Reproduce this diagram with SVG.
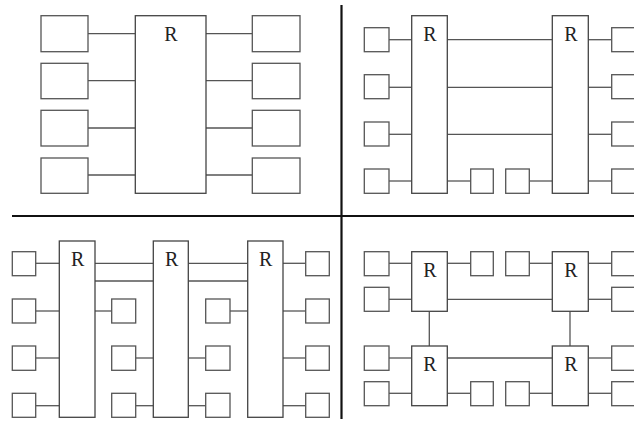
<svg xmlns="http://www.w3.org/2000/svg" width="634" height="421" viewBox="0 0 634 421">
<style>
.b{fill:#fff;stroke:#555;stroke-width:1.3}
.r{fill:#fff;stroke:#444;stroke-width:1.3}
.c line{stroke:#555;stroke-width:1.3}
.d{stroke:#111;stroke-width:2.2}
.t{font-family:"Liberation Serif",serif;font-size:20px;fill:#222;text-anchor:middle}
</style>
<rect width="634" height="421" fill="#fff"/>
<g id="dividers">
<line class="d" x1="341.5" y1="5" x2="341.5" y2="419"/>
<line class="d" x1="12" y1="216" x2="634" y2="216"/>
</g>
<!-- Quadrant 1 -->
<g class="c" id="q1-connectors">
<line x1="88" y1="33.7" x2="135.3" y2="33.7"/>
<line x1="88" y1="80.7" x2="135.3" y2="80.7"/>
<line x1="88" y1="128" x2="135.3" y2="128"/>
<line x1="88" y1="175" x2="135.3" y2="175"/>
<line x1="206" y1="33.7" x2="252.3" y2="33.7"/>
<line x1="206" y1="80.7" x2="252.3" y2="80.7"/>
<line x1="206" y1="128" x2="252.3" y2="128"/>
<line x1="206" y1="175" x2="252.3" y2="175"/>
</g>
<g id="q1-R"><rect class="r" x="135.3" y="15.7" width="70.7" height="177.6"/><text class="t" x="171" y="40.5">R</text></g>
<g id="q1-L1"><rect class="b" x="41" y="15.7" width="47" height="36"/></g>
<g id="q1-L2"><rect class="b" x="41" y="63.3" width="47" height="35.4"/></g>
<g id="q1-L3"><rect class="b" x="41" y="110.3" width="47" height="35.7"/></g>
<g id="q1-L4"><rect class="b" x="41" y="158" width="47" height="35.3"/></g>
<g id="q1-R1"><rect class="b" x="252.3" y="15.7" width="47.7" height="36"/></g>
<g id="q1-R2"><rect class="b" x="252.3" y="63.3" width="47.7" height="35.4"/></g>
<g id="q1-R3"><rect class="b" x="252.3" y="110.3" width="47.7" height="35.7"/></g>
<g id="q1-R4"><rect class="b" x="252.3" y="158" width="47.7" height="35.3"/></g>
<!-- Quadrant 2 -->
<g class="c" id="q2-connectors">
<line x1="389" y1="39.7" x2="411.7" y2="39.7"/>
<line x1="389" y1="87.3" x2="411.7" y2="87.3"/>
<line x1="389" y1="134.3" x2="411.7" y2="134.3"/>
<line x1="389" y1="181" x2="411.7" y2="181"/>
<line x1="447.3" y1="39.7" x2="552.3" y2="39.7"/>
<line x1="447.3" y1="87.3" x2="552.3" y2="87.3"/>
<line x1="447.3" y1="134.3" x2="552.3" y2="134.3"/>
<line x1="447.3" y1="181" x2="470.7" y2="181"/>
<line x1="529.3" y1="181" x2="552.3" y2="181"/>
<line x1="588.3" y1="39.7" x2="611.7" y2="39.7"/>
<line x1="588.3" y1="87.3" x2="611.7" y2="87.3"/>
<line x1="588.3" y1="134.3" x2="611.7" y2="134.3"/>
<line x1="588.3" y1="181" x2="611.7" y2="181"/>
</g>
<g id="q2-RA"><rect class="r" x="411.7" y="15.7" width="35.6" height="177.6"/><text class="t" x="430" y="40.5">R</text></g>
<g id="q2-RB"><rect class="r" x="552.3" y="15.7" width="36" height="177.6"/><text class="t" x="571" y="40.5">R</text></g>
<g id="q2-L1"><rect class="b" x="364.3" y="27.7" width="24.7" height="24"/></g>
<g id="q2-L2"><rect class="b" x="364.3" y="74.7" width="24.7" height="24"/></g>
<g id="q2-L3"><rect class="b" x="364.3" y="122" width="24.7" height="24"/></g>
<g id="q2-L4"><rect class="b" x="364.3" y="169" width="24.7" height="24.3"/></g>
<g id="q2-M1"><rect class="b" x="470.7" y="169" width="22.6" height="24.3"/></g>
<g id="q2-M2"><rect class="b" x="505.7" y="169" width="23.6" height="24.3"/></g>
<g id="q2-R1"><rect class="b" x="611.7" y="27.7" width="24.7" height="24"/></g>
<g id="q2-R2"><rect class="b" x="611.7" y="74.7" width="24.7" height="24"/></g>
<g id="q2-R3"><rect class="b" x="611.7" y="122" width="24.7" height="24"/></g>
<g id="q2-R4"><rect class="b" x="611.7" y="169" width="24.7" height="24.3"/></g>
<!-- Quadrant 3 -->
<g class="c" id="q3-connectors">
<line x1="35.7" y1="263.3" x2="59.3" y2="263.3"/>
<line x1="95" y1="263.3" x2="153.3" y2="263.3"/>
<line x1="95" y1="281" x2="153.3" y2="281"/>
<line x1="188.3" y1="263.3" x2="247.7" y2="263.3"/>
<line x1="188.3" y1="281" x2="247.7" y2="281"/>
<line x1="283" y1="263.3" x2="305.7" y2="263.3"/>
<line x1="35.7" y1="311" x2="59.3" y2="311"/>
<line x1="95" y1="311" x2="111.7" y2="311"/>
<line x1="230" y1="311" x2="247.7" y2="311"/>
<line x1="283" y1="311" x2="305.7" y2="311"/>
<line x1="35.7" y1="358" x2="59.3" y2="358"/>
<line x1="135.7" y1="358" x2="153.3" y2="358"/>
<line x1="188.3" y1="358" x2="205.7" y2="358"/>
<line x1="283" y1="358" x2="305.7" y2="358"/>
<line x1="35.7" y1="405.7" x2="59.3" y2="405.7"/>
<line x1="135.7" y1="405.7" x2="153.3" y2="405.7"/>
<line x1="188.3" y1="405.7" x2="205.7" y2="405.7"/>
<line x1="283" y1="405.7" x2="305.7" y2="405.7"/>
</g>
<g id="q3-RA"><rect class="r" x="59.3" y="241" width="35.7" height="176.3"/><text class="t" x="77.7" y="266">R</text></g>
<g id="q3-RB"><rect class="r" x="153.3" y="241" width="35" height="176.3"/><text class="t" x="171.7" y="266">R</text></g>
<g id="q3-RC"><rect class="r" x="247.7" y="241" width="35.3" height="176.3"/><text class="t" x="265.7" y="266">R</text></g>
<g id="q3-L1"><rect class="b" x="12.3" y="251.7" width="23.4" height="24"/></g>
<g id="q3-L2"><rect class="b" x="12.3" y="299" width="23.4" height="24"/></g>
<g id="q3-L3"><rect class="b" x="12.3" y="346" width="23.4" height="24.3"/></g>
<g id="q3-L4"><rect class="b" x="12.3" y="393.3" width="23.4" height="24"/></g>
<g id="q3-A2"><rect class="b" x="111.7" y="299" width="24" height="24"/></g>
<g id="q3-A3"><rect class="b" x="111.7" y="346" width="24" height="24.3"/></g>
<g id="q3-A4"><rect class="b" x="111.7" y="393.3" width="24" height="24"/></g>
<g id="q3-B2"><rect class="b" x="205.7" y="299" width="24.3" height="24"/></g>
<g id="q3-B3"><rect class="b" x="205.7" y="346" width="24.3" height="24.3"/></g>
<g id="q3-B4"><rect class="b" x="205.7" y="393.3" width="24.3" height="24"/></g>
<g id="q3-R1"><rect class="b" x="305.7" y="251.7" width="23.6" height="24"/></g>
<g id="q3-R2"><rect class="b" x="305.7" y="299" width="23.6" height="24"/></g>
<g id="q3-R3"><rect class="b" x="305.7" y="346" width="23.6" height="24.3"/></g>
<g id="q3-R4"><rect class="b" x="305.7" y="393.3" width="23.6" height="24"/></g>
<!-- Quadrant 4 -->
<g class="c" id="q4-connectors">
<line x1="389" y1="263.3" x2="411.7" y2="263.3"/>
<line x1="447.3" y1="263.3" x2="470.7" y2="263.3"/>
<line x1="529.3" y1="263.3" x2="552.3" y2="263.3"/>
<line x1="588.3" y1="263.3" x2="611.7" y2="263.3"/>
<line x1="389" y1="299.3" x2="411.7" y2="299.3"/>
<line x1="447.3" y1="299.3" x2="552.3" y2="299.3"/>
<line x1="588.3" y1="299.3" x2="611.7" y2="299.3"/>
<line x1="429.3" y1="311.3" x2="429.3" y2="346"/>
<line x1="570" y1="311.3" x2="570" y2="346"/>
<line x1="389" y1="358" x2="411.7" y2="358"/>
<line x1="447.3" y1="358" x2="552.3" y2="358"/>
<line x1="588.3" y1="358" x2="611.7" y2="358"/>
<line x1="389" y1="393.3" x2="411.7" y2="393.3"/>
<line x1="447.3" y1="393.3" x2="470.7" y2="393.3"/>
<line x1="529.3" y1="393.3" x2="552.3" y2="393.3"/>
<line x1="588.3" y1="393.3" x2="611.7" y2="393.3"/>
</g>
<g id="q4-RTL"><rect class="r" x="411.7" y="251.7" width="35.6" height="59.6"/><text class="t" x="430" y="277">R</text></g>
<g id="q4-RTR"><rect class="r" x="552.3" y="251.7" width="36" height="59.6"/><text class="t" x="571" y="277">R</text></g>
<g id="q4-RBL"><rect class="r" x="411.7" y="346" width="35.6" height="59.7"/><text class="t" x="430" y="371">R</text></g>
<g id="q4-RBR"><rect class="r" x="552.3" y="346" width="36" height="59.7"/><text class="t" x="571" y="371">R</text></g>
<g id="q4-L1"><rect class="b" x="364.3" y="251.7" width="24.7" height="24"/></g>
<g id="q4-L2"><rect class="b" x="364.3" y="287.3" width="24.7" height="24"/></g>
<g id="q4-L3"><rect class="b" x="364.3" y="346" width="24.7" height="24.3"/></g>
<g id="q4-L4"><rect class="b" x="364.3" y="381.7" width="24.7" height="24"/></g>
<g id="q4-M1"><rect class="b" x="470.7" y="251.7" width="22.6" height="24"/></g>
<g id="q4-M2"><rect class="b" x="505.7" y="251.7" width="23.6" height="24"/></g>
<g id="q4-M3"><rect class="b" x="470.7" y="381.7" width="22.6" height="24"/></g>
<g id="q4-M4"><rect class="b" x="505.7" y="381.7" width="23.6" height="24"/></g>
<g id="q4-R1"><rect class="b" x="611.7" y="251.7" width="24.7" height="24"/></g>
<g id="q4-R2"><rect class="b" x="611.7" y="287.3" width="24.7" height="24"/></g>
<g id="q4-R3"><rect class="b" x="611.7" y="346" width="24.7" height="24.3"/></g>
<g id="q4-R4"><rect class="b" x="611.7" y="381.7" width="24.7" height="24"/></g>
</svg>
